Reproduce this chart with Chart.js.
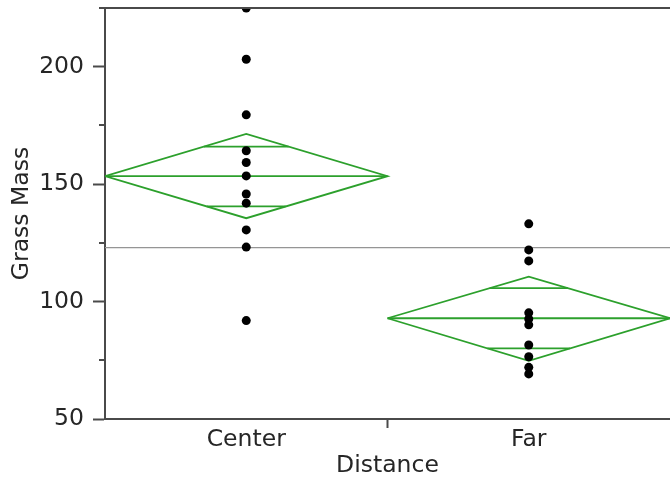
<!DOCTYPE html>
<html>
<head>
<meta charset="utf-8">
<script src="https://cdn.jsdelivr.net/npm/chart.js@4.4.0/dist/chart.umd.min.js"></script>
<style>
  html, body { margin: 0; padding: 0; background: #fff; }
  #wrap { width: 670px; height: 478px; position: relative; }
</style>
</head>
<body>
<div id="wrap"><canvas id="chart"></canvas></div>
<script>
// grass mass by distance
const categories = ["Center", "Far"];
const centerMass = [225, 203.2, 179.5, 164.2, 159.2, 153.5, 145.8, 141.9, 130.5, 123.2, 91.9];
const farMass = [133.1, 122.0, 117.3, 95.2, 92.6, 90.1, 81.5, 76.5, 72.0, 69.2];

// means diamonds: mean, 95% ci ends, overlap marks
const groupMeans = [153.4, 92.9];
const upperCI = [171.4, 110.6];
const lowerCI = [135.5, 74.8];
const upperOverlap = [166.0, 105.7];
const lowerOverlap = [140.5, 80.1];
const grandMean = 123.0;

const yMin = 50, yMax = 225, yStep = 25;
const yLabelEvery = 50;

const green = "#2ca02c";
const axisColor = "#4a4a4a";
const textColor = "#262626";
const font = { family: "DejaVu Sans", size: 23.5 };

const pointSets = [centerMass, farMass];

const datasets = [];

// dots first so they sit on top
pointSets.forEach((vals, i) => {
  datasets.push({
    data: vals.map(v => ({ x: i + 0.5, y: v })),
    pointRadius: 4.5,
    pointBackgroundColor: "#000",
    pointBorderWidth: 0,
    showLine: false,
    order: 0
  });
});

datasets.push({
  data: [{ x: 0, y: grandMean }, { x: categories.length, y: grandMean }],
  showLine: true,
  borderColor: "#959595",
  borderWidth: 1.3,
  pointRadius: 0,
  order: 1
});

categories.forEach((c, i) => {
  const mid = i + 0.5;
  const m = groupMeans[i];
  const line = (pts) => ({
    data: pts,
    showLine: true,
    borderColor: green,
    borderWidth: 1.8,
    pointRadius: 0,
    order: 2
  });
  datasets.push(line([
    { x: i, y: m }, { x: mid, y: upperCI[i] }, { x: i + 1, y: m },
    { x: mid, y: lowerCI[i] }, { x: i, y: m }
  ]));
  datasets.push(line([{ x: i, y: m }, { x: i + 1, y: m }]));
  const fu = (upperCI[i] - upperOverlap[i]) / (upperCI[i] - m);
  datasets.push(line([{ x: mid - fu / 2, y: upperOverlap[i] }, { x: mid + fu / 2, y: upperOverlap[i] }]));
  const fl = (lowerOverlap[i] - lowerCI[i]) / (m - lowerCI[i]);
  datasets.push(line([{ x: mid - fl / 2, y: lowerOverlap[i] }, { x: mid + fl / 2, y: lowerOverlap[i] }]));
});

// top frame line + short minor ticks on the y axis
const framePlugin = {
  id: "frame",
  afterDraw(chart) {
    const { ctx, chartArea } = chart;
    const y = chart.scales.y;
    ctx.save();
    ctx.strokeStyle = axisColor;
    ctx.lineWidth = 2;
    ctx.beginPath();
    ctx.moveTo(chartArea.left, chartArea.top);
    ctx.lineTo(chartArea.right, chartArea.top);
    for (let v = yMin; v <= yMax; v += yStep) {
      if (v % yLabelEvery === 0) continue;
      const py = Math.round(y.getPixelForValue(v));
      ctx.moveTo(chartArea.left - 6, py);
      ctx.lineTo(chartArea.left, py);
    }
    ctx.stroke();
    ctx.restore();
  }
};

new Chart(document.getElementById("chart"), {
  type: "scatter",
  data: { datasets },
  options: {
    responsive: true,
    maintainAspectRatio: false,
    animation: false,
    layout: { autoPadding: false, padding: { top: 8, right: 0, left: 0, bottom: 0 } },
    plugins: { legend: { display: false }, tooltip: { enabled: false } },
    scales: {
      x: {
        type: "linear",
        min: 0,
        max: categories.length,
        afterBuildTicks: (s) => {
          s.ticks = [{ value: 0.5 }, { value: 1 }, { value: 1.5 }];
        },
        afterFit: (s) => { s.height = 59; s.paddingLeft = 0; s.paddingRight = 0; },
        ticks: {
          autoSkip: false,
          maxRotation: 0,
          color: textColor,
          font,
          padding: -2,
          callback: (v) => (v % 1 === 0.5 ? categories[Math.floor(v)] : "")
        },
        grid: {
          drawOnChartArea: false,
          tickLength: 9,
          tickWidth: 2,
          tickColor: (ctx) => (ctx.tick && ctx.tick.value === 1 ? axisColor : "rgba(0,0,0,0)")
        },
        border: { color: axisColor, width: 2 },
        title: { display: true, text: "Distance", color: textColor, font, padding: { top: 0, bottom: -2 } }
      },
      y: {
        min: yMin,
        max: yMax,
        afterBuildTicks: (s) => {
          const t = [];
          for (let v = yMin; v <= yMax; v += yLabelEvery) t.push({ value: v });
          s.ticks = t;
        },
        afterFit: (s) => { s.width = 105; s.paddingTop = 0; s.paddingBottom = 0; },
        ticks: { color: textColor, font, padding: 9 },
        grid: { drawOnChartArea: false, tickLength: 12, tickWidth: 2, tickColor: axisColor },
        border: { color: axisColor, width: 2 },
        title: { display: true, text: "Grass Mass", color: textColor, font, padding: { top: 8, bottom: 0 } }
      }
    }
  },
  plugins: [framePlugin]
});
</script>
</body>
</html>
